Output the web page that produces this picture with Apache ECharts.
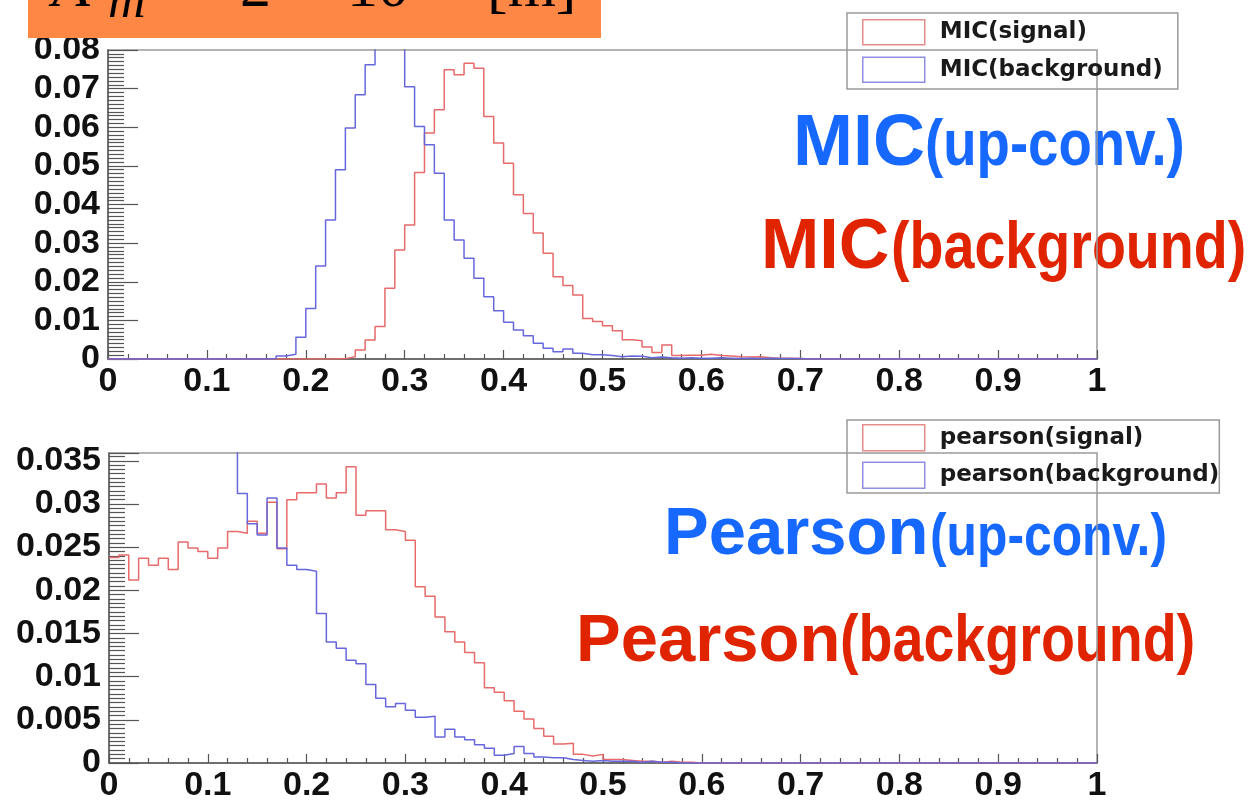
<!DOCTYPE html>
<html>
<head>
<meta charset="utf-8">
<script src="https://cdn.jsdelivr.net/npm/echarts@6/dist/echarts.min.js"></script>
<style>
  html, body { margin: 0; padding: 0; background: #ffffff; }
  #chart { width: 1250px; height: 801px; }
</style>
</head>
<body>
<div id="chart"></div>
<script>
// Histogram bins: 100 bins of width 0.01 on [0, 1], normalised contents.
const binWidth = 0.01;

const micSignal = [
  0, 0, 0, 0, 0, 0, 0, 0, 0, 0,
  0, 0, 0, 0, 0, 0, 0, 0, 0, 0,
  0, 0, 0, 0.0001, 0.0006, 0.0023, 0.0049, 0.0084, 0.0183, 0.0282,
  0.0347, 0.0483, 0.0585, 0.0645, 0.0749, 0.0736, 0.0766, 0.0753, 0.0628, 0.0559,
  0.0507, 0.0425, 0.0377, 0.0326, 0.0274, 0.0213, 0.0190, 0.0166, 0.0105, 0.0097,
  0.0086, 0.0073, 0.0050, 0.0047, 0.0031, 0.0017, 0.0036, 0.0009, 0.0010, 0.0010,
  0.0012, 0.0009, 0.0008, 0.0006, 0.0005, 0.0006, 0.0003, 0.0002, 0.0002, 0.0001,
  0, 0, 0, 0, 0, 0, 0, 0, 0, 0,
  0, 0, 0, 0, 0, 0, 0, 0, 0, 0,
  0, 0, 0, 0, 0, 0, 0, 0, 0, 0
];

const micBackground = [
  0, 0, 0, 0, 0, 0, 0, 0, 0, 0,
  0, 0, 0, 0, 0, 0, 0.0001, 0.0008, 0.0012, 0.0056,
  0.0131, 0.0241, 0.0360, 0.0490, 0.0598, 0.0684, 0.0762, 0.0840, 0.0860, 0.0820,
  0.0705, 0.0602, 0.0555, 0.0481, 0.0360, 0.0308, 0.0261, 0.0209, 0.0161, 0.0125,
  0.0095, 0.0075, 0.0060, 0.0041, 0.0028, 0.0019, 0.0026, 0.0015, 0.0011, 0.0011,
  0.0009, 0.0006, 0.0008, 0.0007, 0.0003, 0.0005, 0.0003, 0.0002, 0.0003, 0.0002,
  0.0002, 0.0003, 0.0002, 0.0001, 0.0002, 0.0001, 0.0002, 0.0001, 0.0001, 0.0001,
  0, 0, 0, 0, 0, 0, 0, 0, 0, 0,
  0, 0, 0, 0, 0, 0, 0, 0, 0, 0,
  0, 0, 0, 0, 0, 0, 0, 0, 0, 0
];

const pearsonSignal = [
  0.0238, 0.0241, 0.0212, 0.0237, 0.0229, 0.0237, 0.0224, 0.0256, 0.0249, 0.0245,
  0.0237, 0.0249, 0.0268, 0.0266, 0.0280, 0.0266, 0.0302, 0.0248, 0.0305, 0.0313,
  0.0313, 0.0323, 0.0307, 0.0313, 0.0343, 0.0287, 0.0292, 0.0292, 0.0270, 0.0268,
  0.0258, 0.0204, 0.0193, 0.0169, 0.0152, 0.0140, 0.0128, 0.0116, 0.0087, 0.0082,
  0.0072, 0.0060, 0.0051, 0.0040, 0.0031, 0.0022, 0.0023, 0.0010, 0.0008, 0.0010,
  0.0004, 0.0004, 0.0003, 0.0002, 0.0002, 0.0001, 0.0002, 0.0001, 0.0001, 0,
  0, 0, 0, 0, 0, 0, 0, 0, 0, 0,
  0, 0, 0, 0, 0, 0, 0, 0, 0, 0,
  0, 0, 0, 0, 0, 0, 0, 0, 0, 0,
  0, 0, 0, 0, 0, 0, 0, 0, 0, 0
];

const pearsonBackground = [
  0.068, 0.066, 0.064, 0.060, 0.058, 0.054, 0.052, 0.048, 0.046, 0.043,
  0.041, 0.039, 0.037, 0.0312, 0.0277, 0.0264, 0.0307, 0.0249, 0.0229, 0.0224,
  0.0222, 0.0173, 0.0140, 0.0133, 0.0119, 0.0115, 0.0091, 0.0075, 0.0065, 0.0069,
  0.0061, 0.0053, 0.0054, 0.0030, 0.0039, 0.0030, 0.0027, 0.0021, 0.0017, 0.0009,
  0.0011, 0.0019, 0.0011, 0.0007, 0.0006, 0.0006, 0.0004, 0.0003, 0.0002, 0.0003,
  0.0002, 0.0002, 0.0002, 0.0001, 0.0002, 0.0001, 0.0001, 0, 0, 0,
  0, 0, 0, 0, 0, 0, 0, 0, 0, 0,
  0, 0, 0, 0, 0, 0, 0, 0, 0, 0,
  0, 0, 0, 0, 0, 0, 0, 0, 0, 0,
  0, 0, 0, 0, 0, 0, 0, 0, 0, 0
];

// Axis ranges and steps
const xRange = [0, 1];
const xStep = 0.1;
const micRange = [0, 0.08];
const micStep = 0.01;
const pearsonRange = [0, 0.0359];
const pearsonStep = 0.005;

// Legend entries
const micNames = ['MIC(signal)', 'MIC(background)'];
const pearsonNames = ['pearson(signal)', 'pearson(background)'];

const RED = '#e86a6a';
const BLUE = '#6767dd';
const TICK_FONT = '"Liberation Sans", Arial, sans-serif';
const LEGEND_FONT = '"DejaVu Sans", sans-serif';

// Turn bin contents into step-line vertices (left edges plus the closing edge).
function stepPoints(values) {
  const pts = values.map((v, i) => [i * binWidth, v]);
  pts.push([values.length * binWidth, values[values.length - 1]]);
  return pts;
}

function fmt(step, digits) {
  return function (v) {
    const k = v / step;
    if (Math.abs(k - Math.round(k)) > 1e-6) return '';
    return String(+v.toFixed(digits));
  };
}

function xAxisFor(gridIndex) {
  return {
    type: 'value', gridIndex: gridIndex,
    min: xRange[0], max: xRange[1], interval: xStep,
    axisLine: { show: true, lineStyle: { color: '#5a5a5a', width: 1.5 } },
    axisTick: { show: true, inside: true, length: 9, lineStyle: { color: '#555', width: 1.2 } },
    minorTick: { show: true, splitNumber: 5, length: 5, lineStyle: { color: '#555', width: 1.2 } },
    splitLine: { show: false },
    axisLabel: {
      show: true, margin: 6, color: '#111',
      fontFamily: TICK_FONT, fontWeight: 'bold', fontSize: 34,
      formatter: fmt(xStep, 2)
    }
  };
}

function yAxisFor(gridIndex, range, step) {
  return {
    type: 'value', gridIndex: gridIndex,
    min: range[0], max: range[1], interval: step,
    axisLine: { show: true, lineStyle: { color: '#5a5a5a', width: 1.5 } },
    axisTick: { show: true, inside: true, length: 30, lineStyle: { color: '#555', width: 1.2 } },
    minorTick: { show: true, splitNumber: 10, length: 16, lineStyle: { color: '#555', width: 1.2 } },
    splitLine: { show: false },
    axisLabel: {
      show: true, margin: 8, color: '#111',
      fontFamily: TICK_FONT, fontWeight: 'bold', fontSize: 34,
      formatter: fmt(step, 4)
    }
  };
}

function histSeries(name, values, color, axisIndex) {
  return {
    name: name, type: 'line', step: 'end',
    xAxisIndex: axisIndex, yAxisIndex: axisIndex,
    data: stepPoints(values),
    symbol: 'none', showSymbol: false, clip: true, silent: true,
    lineStyle: { color: color, width: 1.5 },
    itemStyle: { color: color },
    z: 3
  };
}

function legendFor(names, colors, left, top, padding, itemHeight, itemGap) {
  return {
    show: true, orient: 'vertical', left: left, top: top,
    padding: padding, itemGap: itemGap, itemWidth: 62, itemHeight: itemHeight,
    icon: 'rect', selectedMode: false,
    borderColor: '#9a9a9a', borderWidth: 1.5, backgroundColor: 'transparent',
    textStyle: {
      fontFamily: LEGEND_FONT, fontWeight: 'bold', fontSize: 23, color: '#1a1a1a',
      padding: [0, 0, 0, 10]
    },
    data: names.map((n, i) => ({
      name: n, icon: 'rect',
      itemStyle: { color: '#ffffff', borderColor: colors[i], borderWidth: 1.5 }
    }))
  };
}

// Big annotation: a bold word followed by a condensed parenthetical, sharing a baseline.
function label(word, paren, color, x, parenX, baseline, wordSize, parenSize, squeeze) {
  return [
    {
      type: 'text', x: x, y: baseline - 0.3465 * wordSize, z: -1, silent: true,
      style: {
        text: word, x: 0, y: 0, fill: color,
        font: 'bold ' + wordSize + 'px "Liberation Sans", Arial, sans-serif',
        textAlign: 'left', textVerticalAlign: 'middle'
      }
    },
    {
      type: 'text', x: parenX, y: baseline - 0.3465 * parenSize, scaleX: squeeze, z: -1, silent: true,
      style: {
        text: paren, x: 0, y: 0, fill: color,
        font: 'bold ' + parenSize + 'px "Liberation Sans", Arial, sans-serif',
        textAlign: 'left', textVerticalAlign: 'middle'
      }
    }
  ];
}

function serif(text, x, baseline, size, italic) {
  return {
    type: 'text', x: x, y: baseline - 0.3375 * size, z: 51, silent: true,
    style: {
      text: text, x: 0, y: 0, fill: '#000000',
      font: (italic ? 'italic ' : '') + size + 'px "Liberation Serif", "DejaVu Serif", serif',
      textAlign: 'left', textVerticalAlign: 'middle'
    }
  };
}

const BLUE_TXT = '#1668ff';
const RED_TXT = '#e02400';

const graphics = [
  { type: 'rect', shape: { x: 28, y: -2, width: 573, height: 40 }, style: { fill: '#ff8745' }, z: 50, silent: true },
  serif('A', 52, 11, 62, true),
  serif('m', 108, 21, 52, true),
  serif('2', 240, 11, 62, false),
  serif('\u00d7', 285, 11, 62, false),
  serif('10', 347, 11, 62, false),
  serif('[m]', 487, 11, 62, false)
].concat(
  label('MIC', '(up-conv.)', BLUE_TXT, 793, 925, 170, 72, 65, 0.84),
  label('MIC', '(background)', RED_TXT, 761, 891, 273, 70, 67, 0.83),
  label('Pearson', '(up-conv.)', BLUE_TXT, 664, 930, 559, 67, 60, 0.83),
  label('Pearson', '(background)', RED_TXT, 576, 840, 666, 67, 67, 0.83)
);

const chart = echarts.init(document.getElementById('chart'), null, { renderer: 'canvas' });
chart.setOption({
  animation: false,
  backgroundColor: '#ffffff',
  grid: [
    { left: 108, top: 50, width: 989, height: 309, show: true, borderColor: '#9a9a9a', borderWidth: 1.5,
      backgroundColor: 'transparent', containLabel: false, outerBoundsMode: 'none' },
    { left: 109, top: 453, width: 988, height: 310, show: true, borderColor: '#9a9a9a', borderWidth: 1.5,
      backgroundColor: 'transparent', containLabel: false, outerBoundsMode: 'none' }
  ],
  xAxis: [xAxisFor(0), xAxisFor(1)],
  yAxis: [yAxisFor(0, micRange, micStep), yAxisFor(1, pearsonRange, pearsonStep)],
  legend: [
    legendFor(micNames, ['#e58c8c', '#8e8ee2'], 847, 13, [6, 15, 6, 15], 25, 11),
    legendFor(pearsonNames, ['#e58c8c', '#8e8ee2'], 847, 420, [4, 0, 4, 15], 26, 10)
  ],
  series: [
    histSeries(micNames[0], micSignal, RED, 0),
    histSeries(micNames[1], micBackground, BLUE, 0),
    histSeries(pearsonNames[0], pearsonSignal, RED, 1),
    histSeries(pearsonNames[1], pearsonBackground, BLUE, 1)
  ],
  graphic: { elements: graphics }
});
</script>
</body>
</html>
